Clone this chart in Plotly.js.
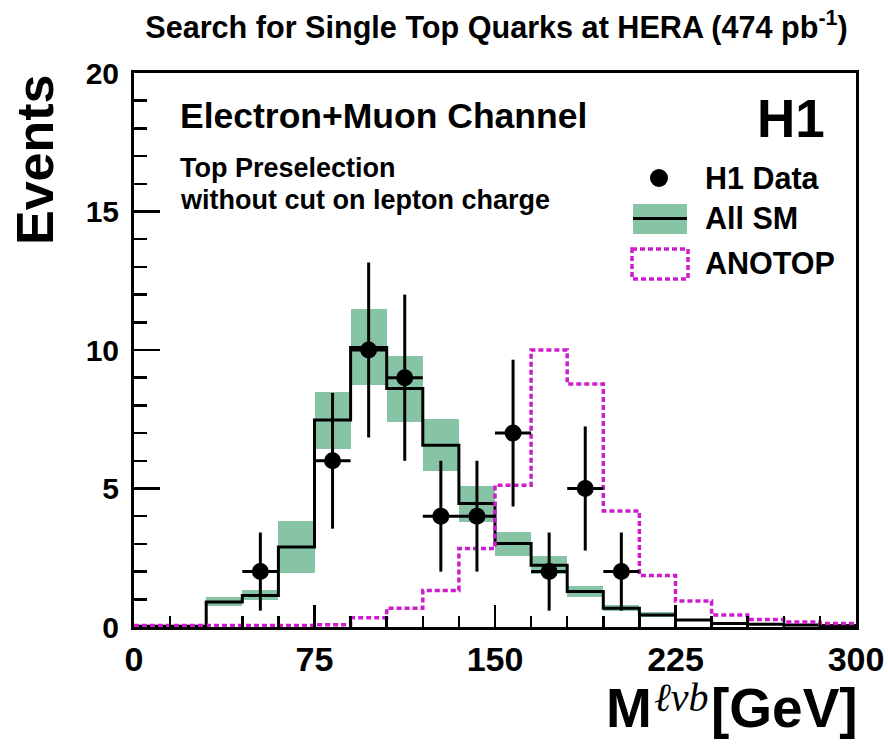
<!DOCTYPE html>
<html>
<head>
<meta charset="utf-8">
<script src="https://cdn.plot.ly/plotly-3.0.1.min.js"></script>
<style>html,body{margin:0;padding:0;background:#fff;}#plot{width:888px;height:744px;}</style>
</head>
<body>
<div id="plot"></div>
<script>
// ---- data ----
const binEdges = [0,15,30,45,60,75,90,105,120,135,150,165,180,195,210,225,240,255,270,285,300];
const binCenters = [7.5,22.5,37.5,52.5,67.5,82.5,97.5,112.5,127.5,142.5,157.5,172.5,187.5,202.5,217.5,232.5,247.5,262.5,277.5,292.5];
const smValues = [0.03,0.03,0.9,1.14,2.89,7.47,10.09,8.61,6.56,4.46,3.01,2.23,1.28,0.68,0.43,0.25,0.13,0.1,0.07,0.05];
const smBandLow = [0.02,0.02,0.75,0.97,1.95,6.42,8.73,7.4,5.63,3.79,2.58,1.93,1.07,0.57,0.35,0.2,0.1,0.07,0.05,0.03];
const smBandHigh = [0.04,0.04,1.08,1.33,3.82,8.47,11.48,9.79,7.5,5.08,3.44,2.55,1.48,0.78,0.53,0.3,0.17,0.13,0.1,0.07];
const anotopValues = [0.05,0.05,0.05,0.05,0.05,0.08,0.33,0.68,1.32,2.83,5.12,10.0,8.77,4.19,1.86,0.94,0.43,0.27,0.18,0.13];
const dataX = [52.5,82.5,97.5,112.5,127.5,142.5,157.5,172.5,187.5,202.5];
const dataY = [2,6,10,9,4,4,7,2,5,2];
const dataErr = [1.41,2.45,3.16,3.0,2.0,2.0,2.65,1.41,2.24,1.41];
const xTickVals = [0,75,150,225,300];
const yTickVals = [0,5,10,15,20];

// ---- layout helpers ----
const W = 888, H = 744;
const L = 134, R = 856, T = 73, B = 627;
const px = x => (x - L) / (R - L);
const py = y => (B - y) / (B - T);
const FONT = 'Liberation Sans, Arial, Helvetica, sans-serif';
const SERIF = 'Liberation Serif, DejaVu Serif, serif';
const GREEN = '#86c4a5';
const MAGENTA = '#cc1ccc';

const bandBase = smBandLow;
const bandHeight = smBandHigh.map((h, i) => h - smBandLow[i]);
const stepY = smValues.concat([smValues[smValues.length - 1]]);
const stepA = anotopValues.concat([anotopValues[anotopValues.length - 1]]);

const traces = [
  {type:'bar', x:binCenters, y:bandHeight, base:bandBase, width:15,
   marker:{color:GREEN, line:{width:0}}, showlegend:false, hoverinfo:'skip'},
  {type:'scatter', mode:'lines', x:binEdges, y:stepY, line:{shape:'hv', color:'#000', width:3},
   showlegend:false},
  {type:'scatter', mode:'lines', x:binEdges, y:stepA, line:{shape:'hv', color:MAGENTA, width:3.5, dash:'5px,3px'},
   showlegend:false},
  {type:'scatter', mode:'markers', x:dataX, y:dataY,
   marker:{color:'#000', size:17},
   error_y:{type:'data', array:dataErr, symmetric:true, color:'#000', thickness:3, width:0},
   error_x:{type:'constant', value:7.5, color:'#000', thickness:3, width:0},
   showlegend:false}
];

const ann = (text, x, y, size, xanchor, extra) => Object.assign({
  text:text, xref:'paper', yref:'paper', x:px(x), y:py(y), xanchor:xanchor, yanchor:'middle',
  showarrow:false, font:{family:FONT, size:size, color:'#000', weight:'bold'}
}, extra || {});

const layout = {
  width:W, height:H,
  margin:{l:L, r:W-R, t:T, b:H-B, pad:0},
  paper_bgcolor:'#fff', plot_bgcolor:'#fff',
  showlegend:false,
  title:{text:'<b>Search for Single Top Quarks at HERA (474 pb<sup>-1</sup>)</b>',
         x:496.5/W, xanchor:'center', y:1-27/H, yanchor:'middle',
         font:{family:FONT, size:30.6, color:'#000'}},
  xaxis:{range:[0,300], tickmode:'array', tickvals:xTickVals, ticktext:xTickVals.map(String),
         ticks:'inside', ticklen:22, tickwidth:2.5, tickcolor:'#000',
         minor:{dtick:15, tick0:0, ticks:'inside', ticklen:11, tickwidth:2.5, tickcolor:'#000', showgrid:false},
         showline:true, linewidth:3, linecolor:'#000', mirror:true,
         showgrid:false, zeroline:false,
         tickfont:{family:FONT, size:34, color:'#000', weight:'bold'}},
  yaxis:{range:[0,20], tickmode:'array', tickvals:yTickVals, ticktext:yTickVals.map(String),
         ticks:'inside', ticklen:26, tickwidth:2.5, tickcolor:'#000',
         minor:{dtick:1, tick0:0, ticks:'inside', ticklen:13, tickwidth:2.5, tickcolor:'#000', showgrid:false},
         showline:true, linewidth:3, linecolor:'#000', mirror:true,
         showgrid:false, zeroline:false, ticklabelstandoff:6,
         tickfont:{family:FONT, size:30, color:'#000', weight:'bold'}},
  bargap:0,
  annotations:[
    ann('Events', 35, 160, 52, 'center', {textangle:-90}),
    ann('M', 654, 708, 55, 'right'),
    ann('ℓνb', 652, 697, 40, 'left', {font:{family:SERIF, size:40, color:'#000', style:'italic', weight:'normal'}}),
    ann('[GeV]', 860, 708, 55, 'right'),
    ann('Electron+Muon Channel', 178, 116, 35.5, 'left'),
    ann('Top Preselection', 178, 168, 27, 'left'),
    ann('without cut on lepton charge', 178, 200, 27, 'left'),
    ann('H1', 827, 119, 53, 'right'),
    ann('H1 Data', 703, 178, 30.5, 'left'),
    ann('All SM', 703, 218, 30.5, 'left'),
    ann('ANOTOP', 703, 263, 30.5, 'left')
  ],
  shapes:[
    {type:'circle', xref:'paper', yref:'paper', x0:px(650), x1:px(668), y0:py(169), y1:py(187),
     fillcolor:'#000', line:{width:0}},
    {type:'rect', xref:'paper', yref:'paper', x0:px(633), x1:px(687), y0:py(204), y1:py(234),
     fillcolor:GREEN, line:{width:0}},
    {type:'line', xref:'paper', yref:'paper', x0:px(633), x1:px(687), y0:py(218.5), y1:py(218.5),
     line:{color:'#000', width:3}},
    {type:'rect', xref:'paper', yref:'paper', x0:px(632), x1:px(688), y0:py(249), y1:py(279),
     fillcolor:'rgba(0,0,0,0)', line:{color:MAGENTA, width:3.5, dash:'5px,3px'}}
  ]
};

Plotly.newPlot('plot', traces, layout, {displayModeBar:false, staticPlot:true});
</script>
</body>
</html>
